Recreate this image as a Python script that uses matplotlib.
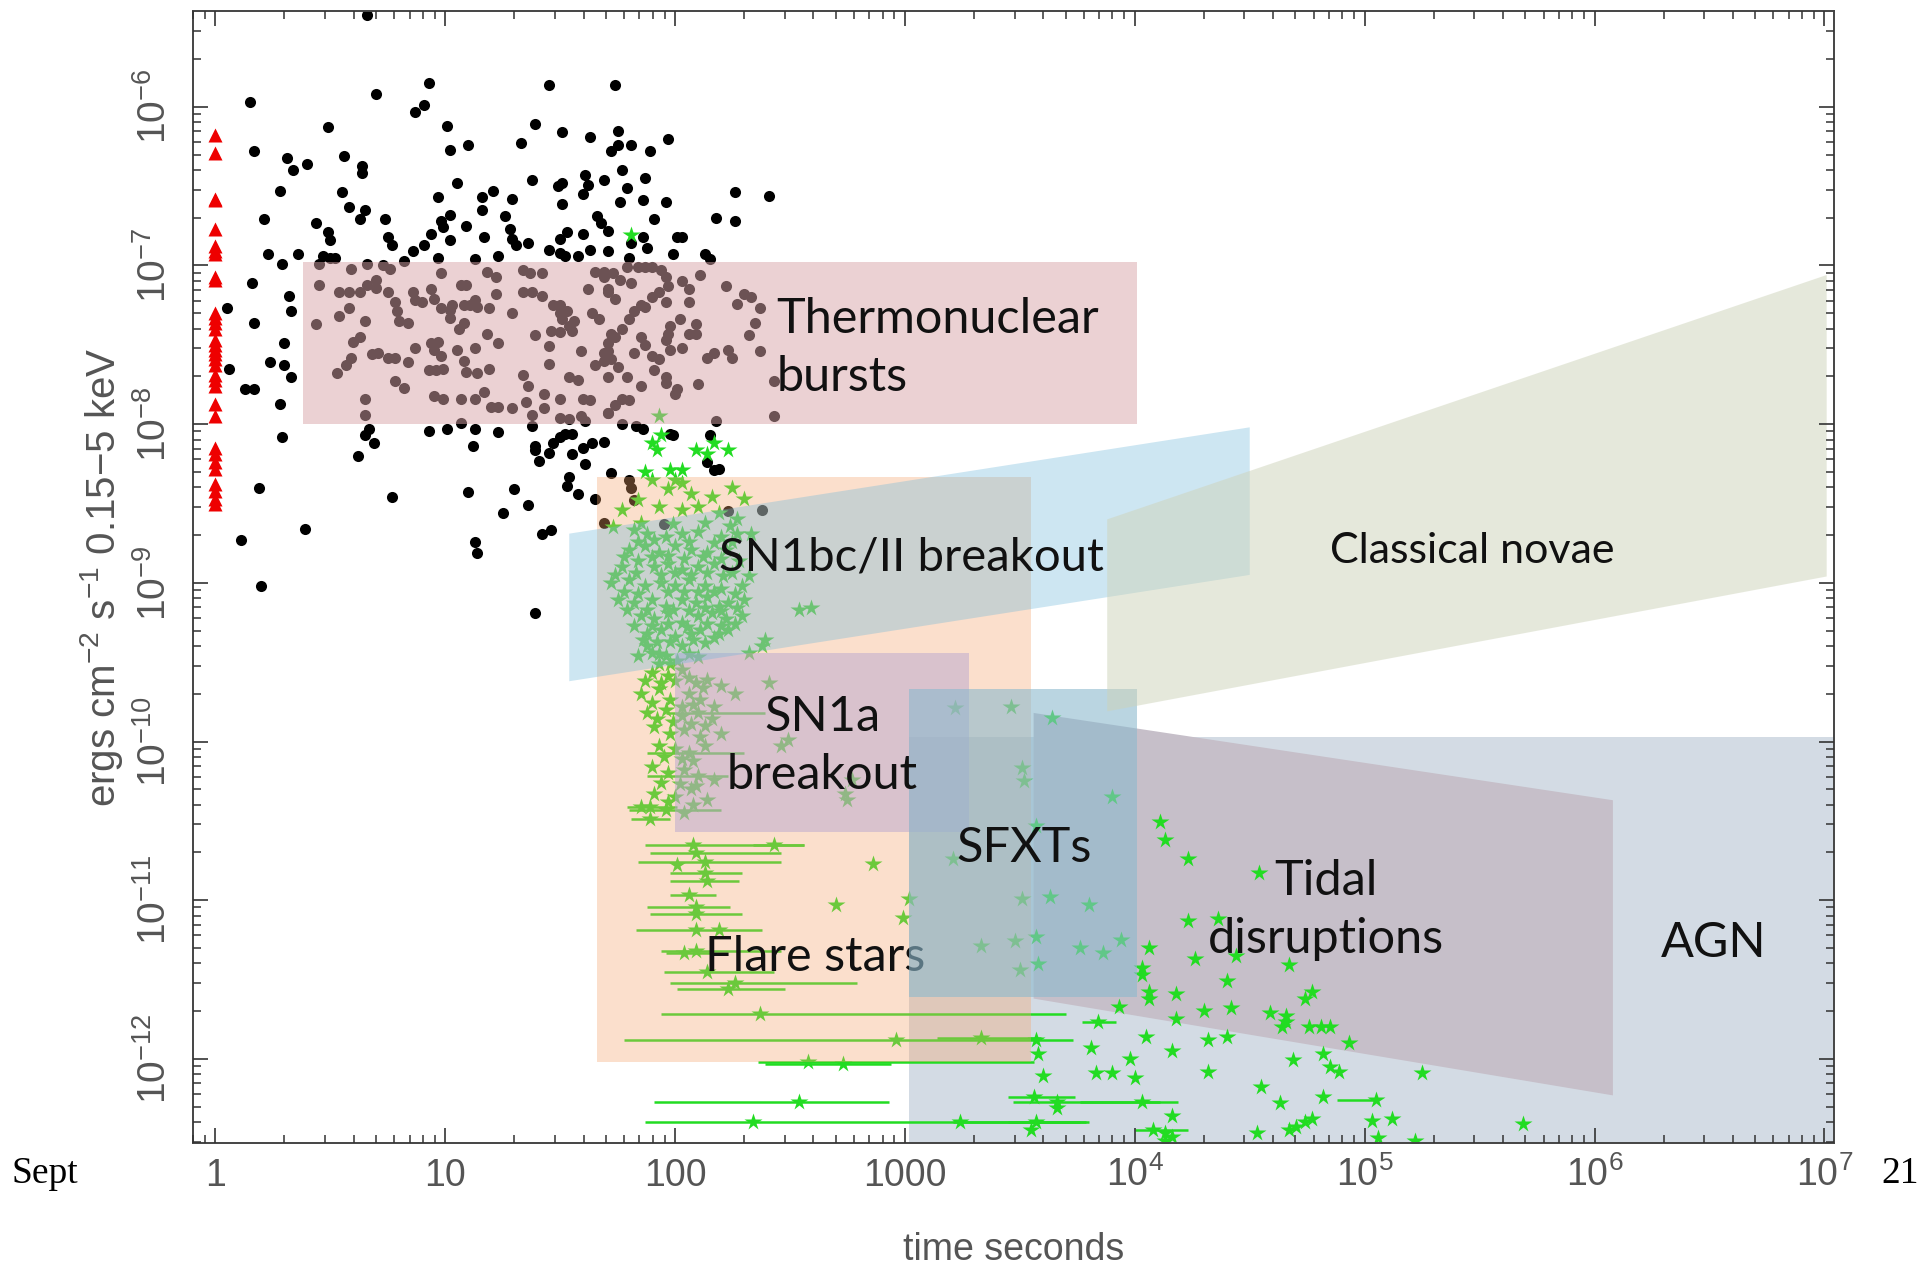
import numpy as np
import matplotlib
matplotlib.use("Agg")
import matplotlib.pyplot as plt
from matplotlib.patches import Polygon

plt.rcParams['font.family'] = ['Liberation Sans', 'DejaVu Sans']
plt.rcParams['mathtext.fontset'] = 'custom'
plt.rcParams['mathtext.rm'] = 'Liberation Sans'
plt.rcParams['mathtext.it'] = 'Liberation Sans:italic'
plt.rcParams['mathtext.bf'] = 'Liberation Sans:bold'

# all positions below are log10(time [s]), log10(flux)
# GRB-like sources at t = 1 s (red triangles)
tri_logf = [-6.18, -6.29, -6.58, -6.59, -6.77, -6.88, -6.91, -6.93, -7.07, -7.09,
            -7.30, -7.33, -7.36, -7.40, -7.47, -7.50, -7.53, -7.56, -7.59, -7.63,
            -7.69, -7.72, -7.76, -7.87, -7.95, -8.15, -8.19, -8.24, -8.28, -8.38,
            -8.42, -8.47, -8.50]

# X-ray bursts (black dots)
burst_pts = [
    (0.66, -5.42), (0.15, -5.97), (0.70, -5.92), (0.93, -5.85), (0.87, -6.03), (0.91, -5.99),
    (1.45, -5.86), (0.49, -6.13), (1.01, -6.12), (1.02, -6.27), (1.10, -6.24), (1.33, -6.23),
    (1.39, -6.11), (1.51, -6.16), (1.63, -6.19), (0.17, -6.28), (0.31, -6.32), (0.34, -6.40),
    (0.40, -6.36), (0.56, -6.31), (0.64, -6.37), (0.64, -6.42), (0.28, -6.53), (0.55, -6.54),
    (1.05, -6.48), (0.97, -6.57), (1.16, -6.57), (1.21, -6.53), (1.29, -6.58), (1.38, -6.46),
    (1.49, -6.50), (1.51, -6.48), (1.51, -6.61), (1.61, -6.43), (1.62, -6.49), (1.60, -6.55),
    (1.69, -6.46), (0.21, -6.71), (0.44, -6.73), (0.58, -6.63), (0.63, -6.71), (0.65, -6.65),
    (0.74, -6.71), (0.98, -6.72), (0.99, -6.76), (1.02, -6.68), (1.09, -6.75), (1.16, -6.65),
    (1.26, -6.69), (1.28, -6.77), (1.66, -6.69), (1.68, -6.73), (1.71, -6.78), (0.49, -6.79),
    (0.50, -6.84), (0.75, -6.82), (0.77, -6.87), (0.86, -6.91), (0.91, -6.87), (0.94, -6.80),
    (1.02, -6.84), (1.17, -6.82), (1.29, -6.83), (1.31, -6.87), (1.36, -6.86), (1.45, -6.90),
    (1.50, -6.83), (1.53, -6.79), (1.60, -6.80), (1.63, -6.90), (1.71, -6.91), (0.23, -6.93),
    (0.29, -6.99), (0.36, -6.93), (0.47, -6.94), (0.52, -6.95), (0.50, -6.95), (0.82, -6.97),
    (0.97, -6.95), (1.13, -6.96), (1.23, -6.94), (1.50, -6.92), (1.52, -6.94), (1.58, -6.94),
    (0.16, -7.11), (0.32, -7.19), (0.33, -7.29), (0.05, -7.27), (0.17, -7.36), (0.30, -7.49),
    (0.24, -7.61), (0.30, -7.63), (0.33, -7.70), (0.06, -7.65), (0.13, -7.78), (0.17, -7.78),
    (0.28, -7.87),
    (1.74, -5.86), (1.75, -6.15), (1.72, -6.28), (1.75, -6.24), (1.81, -6.24), (1.89, -6.28),
    (1.97, -6.20), (1.77, -6.40), (1.87, -6.45), (1.79, -6.51), (1.76, -6.60), (1.86, -6.59),
    (1.96, -6.60), (2.26, -6.54), (2.41, -6.56), (1.91, -6.71), (2.18, -6.70), (2.26, -6.72),
    (1.86, -6.82), (1.81, -6.86), (1.88, -6.89), (2.01, -6.82), (2.03, -6.82), (1.99, -6.93),
    (1.80, -6.95), (2.13, -6.93), (2.15, -6.96),
    (0.29, -8.08), (0.67, -8.03), (0.65, -8.07), (0.69, -8.12), (0.62, -8.20), (0.93, -8.04),
    (1.01, -8.03), (1.13, -8.03), (1.12, -8.14), (1.23, -8.05), (1.38, -8.01), (1.39, -8.14),
    (1.39, -8.16), (1.41, -8.23), (1.45, -8.18), (1.47, -8.12), (1.50, -8.08), (1.52, -8.06),
    (1.55, -8.06), (1.55, -8.19), (1.60, -8.15), (1.64, -8.12), (1.69, -8.11), (1.61, -8.25),
    (0.19, -8.40), (0.11, -8.73), (0.20, -9.02), (0.39, -8.66), (0.77, -8.46), (1.10, -8.43),
    (1.13, -8.74), (1.14, -8.81), (1.30, -8.41), (1.25, -8.56), (1.36, -8.51), (1.39, -9.19),
    (1.42, -8.69), (1.46, -8.67), (1.53, -8.39), (1.54, -8.33), (1.58, -8.44), (1.65, -8.47),
    (1.72, -8.31), (1.77, -8.00), (1.83, -8.01), (1.86, -8.03), (1.98, -8.06), (1.99, -8.07),
    (2.15, -8.07), (2.14, -8.24), (2.17, -8.29), (2.19, -8.28), (1.80, -8.35), (1.81, -8.40),
    (1.82, -8.48), (1.69, -8.62), (1.95, -8.63), (2.23, -8.55), (2.38, -8.54),
    # inside the burst box
    (0.45, -6.99), (0.45, -7.12), (0.44, -7.37), (0.54, -7.17), (0.58, -7.17), (0.63, -7.17),
    (0.59, -7.02), (0.66, -6.99), (0.66, -7.12), (0.70, -7.09), (0.70, -7.14), (0.73, -7.00),
    (0.76, -7.02), (0.75, -7.17), (0.78, -7.23), (0.79, -7.29), (0.80, -7.35), (0.84, -7.36),
    (0.86, -7.17), (0.87, -7.22), (0.90, -7.23), (0.94, -7.15), (0.95, -7.21), (0.98, -7.05),
    (0.98, -7.27), (1.02, -7.28), (1.02, -7.33), (1.03, -7.25), (1.07, -7.12), (1.09, -7.12),
    (1.08, -7.25), (1.11, -7.25), (1.13, -7.22), (1.14, -7.26), (1.19, -7.27), (1.18, -7.04),
    (1.22, -7.07), (1.22, -7.18), (1.29, -7.30), (1.34, -7.17), (1.34, -7.03), (1.37, -7.05),
    (1.42, -7.05), (1.38, -7.17), (1.42, -7.19), (1.47, -7.25), (1.50, -7.25), (1.50, -7.30),
    (1.53, -7.29), (1.51, -7.34), (1.54, -7.38), (1.56, -7.35), (1.62, -7.15), (1.65, -7.04),
    (1.69, -7.04), (1.64, -7.30), (1.67, -7.34), (1.71, -7.17), (0.54, -7.32), (0.58, -7.27),
    (0.65, -7.35), (0.60, -7.48), (0.63, -7.45), (0.59, -7.58), (0.57, -7.63), (0.53, -7.68),
    (0.68, -7.56), (0.71, -7.55), (0.75, -7.58), (0.78, -7.58), (0.84, -7.61), (0.78, -7.73),
    (0.82, -7.77), (0.87, -7.52), (0.94, -7.49), (0.95, -7.53), (0.97, -7.48), (0.98, -7.57),
    (0.93, -7.66), (0.96, -7.66), (0.99, -7.65), (1.05, -7.53), (1.06, -7.40), (1.08, -7.36),
    (1.13, -7.52), (1.08, -7.60), (1.09, -7.67), (1.14, -7.68), (1.19, -7.65), (1.18, -7.43),
    (1.23, -7.49), (1.07, -7.84), (1.13, -7.84), (1.17, -7.80), (0.95, -7.82), (0.99, -7.84),
    (1.20, -7.89), (1.23, -7.89), (1.29, -7.90), (1.34, -7.69), (1.36, -7.76), (1.35, -7.86),
    (1.38, -7.94), (1.39, -7.44), (1.45, -7.51), (1.45, -7.62), (1.46, -7.41), (1.50, -7.42),
    (1.55, -7.41), (1.43, -7.81), (1.43, -7.90), (1.50, -7.84), (1.54, -7.70), (1.58, -7.72),
    (1.59, -7.54), (1.60, -7.84), (1.63, -7.85), (1.65, -7.63), (1.69, -7.60), (1.71, -7.93),
    (1.71, -7.54), (1.72, -7.43), (0.65, -7.84), (0.65, -7.94), (1.07, -7.99), (1.50, -7.96),
    (1.54, -7.97), (1.59, -7.95), (1.61, -7.98),
    (1.69, -7.07), (1.71, -7.15), (1.74, -7.21), (1.73, -7.05), (1.76, -7.09), (1.79, -7.01),
    (1.81, -7.11), (1.84, -7.01), (1.87, -7.01), (1.90, -7.01), (1.94, -7.03), (1.96, -7.07),
    (1.97, -7.13), (1.93, -7.17), (1.90, -7.20), (1.85, -7.25), (1.82, -7.29), (1.80, -7.34),
    (1.77, -7.40), (1.74, -7.45), (1.71, -7.49), (1.69, -7.55), (1.72, -7.59), (1.75, -7.64),
    (1.71, -7.70), (1.87, -7.26), (1.96, -7.23), (2.03, -7.10), (2.06, -7.15), (2.06, -7.23),
    (2.02, -7.34), (1.98, -7.38), (1.97, -7.43), (1.96, -7.47), (1.98, -7.53), (1.93, -7.59),
    (1.90, -7.57), (1.91, -7.66), (1.96, -7.70), (1.96, -7.74), (2.03, -7.52), (2.06, -7.43),
    (2.09, -7.37), (2.09, -7.43), (2.01, -7.78), (2.00, -7.81), (2.10, -7.75), (1.85, -7.45),
    (1.87, -7.50), (1.85, -7.76), (1.77, -7.84), (1.80, -7.85), (1.74, -7.88), (1.71, -7.93),
    (1.82, -7.55), (1.79, -7.70), (2.11, -7.06), (2.22, -7.13), (2.27, -7.24), (2.30, -7.18),
    (2.33, -7.20), (2.37, -7.27), (2.35, -7.36), (2.32, -7.44), (2.37, -7.54), (2.23, -7.53),
    (2.25, -7.58), (2.14, -7.58), (2.17, -7.55), (2.18, -7.98), (2.43, -7.95), (2.43, -7.73),
]

# stars, flares and transients (green stars)
star_pts = [
    (1.81, -6.81), (1.93, -7.95), (1.90, -8.12), (1.92, -8.16), (1.94, -8.07), (2.09, -8.16),
    (2.17, -8.12), (2.23, -8.16), (2.14, -8.19), (1.98, -8.29), (2.03, -8.29), (1.87, -8.30),
    (1.90, -8.35), (2.00, -8.35), (2.03, -8.37), (1.97, -8.41), (2.07, -8.44), (2.16, -8.46),
    (2.25, -8.40), (2.30, -8.47), (1.77, -8.54), (1.84, -8.48), (1.93, -8.52), (2.03, -8.54),
    (2.10, -8.52), (2.19, -8.56), (2.27, -8.60), (1.73, -8.65), (2.33, -8.69),
    (1.82, -8.67), (1.88, -8.69), (1.96, -8.71), (2.03, -8.69), (2.10, -8.68), (2.20, -8.71),
    (2.27, -8.69), (1.80, -8.79), (1.87, -8.77), (1.93, -8.81), (2.00, -8.77), (2.07, -8.79),
    (2.14, -8.81), (2.22, -8.79), (1.77, -8.90), (1.84, -8.86), (1.91, -8.90), (1.97, -8.88),
    (2.03, -8.92), (2.10, -8.90), (2.17, -8.88), (2.25, -8.94), (2.32, -8.96), (1.72, -9.00),
    (1.80, -8.98), (1.87, -9.02), (1.94, -9.00), (2.00, -9.02), (2.06, -8.98), (2.13, -9.02),
    (2.20, -9.04), (2.29, -9.02), (1.75, -9.11), (1.82, -9.13), (1.90, -9.11), (1.96, -9.15),
    (2.03, -9.11), (2.09, -9.13), (2.14, -9.09), (2.19, -9.15), (2.23, -9.13), (2.30, -9.11),
    (1.85, -9.21), (1.91, -9.23), (1.97, -9.19), (2.03, -9.25), (2.10, -9.21), (2.16, -9.19),
    (2.22, -9.23), (2.29, -9.21), (2.54, -9.17), (2.59, -9.16), (1.88, -9.32), (1.94, -9.30),
    (2.00, -9.34), (2.07, -9.32), (2.11, -9.30), (2.19, -9.32), (2.23, -9.30), (2.39, -9.36),
    (2.13, -9.38), (2.03, -9.40), (1.84, -9.46), (1.90, -9.44), (1.96, -9.46), (2.01, -9.49),
    (1.88, -9.40), (2.32, -9.44), (2.38, -9.40), (1.93, -9.51), (1.98, -9.51),
    (1.85, -8.62), (1.99, -8.63), (2.13, -8.62), (2.24, -8.64), (1.84, -8.74), (1.91, -8.73),
    (2.06, -8.74), (2.17, -8.75), (2.25, -8.74), (1.78, -8.84), (1.90, -8.84), (1.97, -8.83),
    (2.04, -8.85), (2.12, -8.84), (2.20, -8.85), (2.28, -8.86), (1.74, -8.95), (1.83, -8.94),
    (1.94, -8.95), (2.00, -8.94), (2.07, -8.95), (2.14, -8.94), (2.21, -8.96), (1.78, -9.06),
    (1.84, -9.07), (1.97, -9.06), (2.04, -9.06), (2.10, -9.06), (2.17, -9.06), (2.26, -9.07),
    (1.79, -9.17), (1.88, -9.17), (1.99, -9.17), (2.06, -9.18), (2.13, -9.16), (2.20, -9.18),
    (2.27, -9.16), (1.82, -9.27), (1.90, -9.27), (1.97, -9.26), (2.05, -9.28), (2.14, -9.26),
    (2.20, -9.27), (2.26, -9.26), (1.86, -9.36), (1.92, -9.37), (1.98, -9.37), (2.08, -9.36),
    (2.17, -9.35), (1.93, -9.45), (2.06, -9.45), (2.10, -9.47),
    (1.90, -9.57), (1.97, -9.59), (2.03, -9.55), (2.09, -9.63), (2.14, -9.61), (2.20, -9.65),
    (1.85, -9.70), (1.93, -9.67), (1.98, -9.74), (2.06, -9.70), (2.11, -9.74), (2.17, -9.78),
    (2.26, -9.70), (2.41, -9.63), (1.88, -9.82), (1.96, -9.80), (2.03, -9.84), (2.16, -9.86),
    (1.91, -9.91), (1.98, -9.95), (2.04, -9.93), (2.11, -9.97), (2.20, -9.95), (2.46, -10.03),
    (2.49, -9.99), (1.93, -10.03), (2.00, -10.05), (2.13, -10.03), (1.90, -10.16),
    (1.97, -10.20), (2.04, -10.18), (2.17, -10.24), (1.91, -10.33), (2.00, -10.35),
    (2.07, -10.30), (2.14, -10.37), (2.75, -10.37), (2.74, -10.33), (1.85, -10.41),
    (2.04, -10.45), (2.77, -10.24), (2.86, -10.77),
    (1.87, -9.62), (1.94, -9.63), (2.00, -9.62), (2.06, -9.60), (2.12, -9.66), (1.90, -9.76),
    (2.03, -9.78), (2.08, -9.77), (1.92, -9.86), (1.99, -9.88), (2.07, -9.89), (2.13, -9.90),
    (1.95, -10.10), (2.03, -10.11), (2.08, -10.12), (1.94, -10.26), (2.02, -10.27),
    (2.09, -10.28), (1.97, -10.38), (2.08, -10.40),
    (2.01, -10.78), (2.09, -11.19), (2.70, -11.03), (2.99, -11.11), (3.02, -10.99),
    (3.21, -10.74), (3.33, -11.29), (3.22, -9.79),
    (3.46, -9.78), (3.64, -9.85), (3.51, -10.17), (3.52, -10.25), (3.90, -10.35), (3.57, -10.53),
    (3.63, -10.98), (3.80, -11.03), (3.51, -10.99), (4.11, -10.51), (4.13, -10.62), (4.23, -10.74),
    (4.54, -10.83), (4.23, -11.13), (4.36, -11.12), (3.76, -11.30), (3.86, -11.33), (3.94, -11.25),
    (3.57, -11.23), (3.48, -11.26), (3.58, -11.40), (3.50, -11.44), (4.06, -11.30), (4.03, -11.43),
    (4.03, -11.47), (4.26, -11.37), (4.44, -11.35), (4.67, -11.41), (4.40, -11.51), (4.06, -11.58),
    (4.06, -11.62), (4.18, -11.59), (3.93, -11.67), (4.30, -11.70), (4.42, -11.68), (4.18, -11.75),
    (4.59, -11.71), (4.66, -11.73), (4.66, -11.77), (4.64, -11.80), (4.76, -11.80), (4.81, -11.80),
    (4.85, -11.80), (4.77, -11.58), (4.74, -11.62), (4.93, -11.90), (4.05, -11.86), (4.32, -11.88),
    (4.40, -11.86), (3.57, -11.88), (3.81, -11.93), (3.98, -12.00), (4.16, -11.95), (3.58, -11.97),
    (4.69, -12.01), (4.82, -11.97), (4.85, -12.05), (4.89, -12.08), (3.60, -12.11), (3.83, -12.09),
    (3.90, -12.09), (4.00, -12.12), (4.32, -12.08), (5.25, -12.09), (4.55, -12.18), (4.63, -12.28),
    (4.82, -12.24), (3.66, -12.31), (4.16, -12.36), (5.03, -12.39), (5.12, -12.38), (3.55, -12.45),
    (4.13, -12.47), (4.16, -12.49), (4.53, -12.47), (4.67, -12.45), (4.70, -12.43), (4.74, -12.40),
    (4.77, -12.38), (5.06, -12.50), (5.22, -12.52), (4.13, -12.52), (5.69, -12.41),
]

# stars with horizontal duration bars: log t, log f, bar start, bar end
bar_logt = [2.10, 2.06, 2.10, 1.96, 1.89, 1.89, 2.08, 2.43, 2.09, 2.13, 2.13, 2.14, 2.06, 2.09,
            2.09, 2.19, 2.04, 2.09, 2.14, 2.26, 2.23, 2.37, 2.96, 3.33, 2.58, 2.73, 2.54, 2.34,
            3.24, 3.56, 3.66, 4.03, 3.57, 4.08, 3.84, 5.05]
bar_logf = [-9.82, -10.07, -10.22, -10.43, -10.41, -10.49, -10.65, -10.65, -10.70, -10.76,
            -10.83, -10.88, -10.97, -11.04, -11.09, -11.19, -11.33, -11.32, -11.45, -11.52,
            -11.56, -11.72, -11.88, -11.87, -12.02, -12.03, -12.27, -12.40, -12.40, -12.24,
            -12.27, -12.27, -12.40, -12.45, -11.77, -12.26]
bar_lo = [1.96, 1.88, 1.88, 1.80, 1.79, 1.81, 1.87, 2.34, 1.89, 1.84, 1.98, 1.98, 1.98, 1.88,
          1.89, 1.83, 1.96, 1.94, 1.95, 1.98, 2.01, 1.94, 1.78, 3.14, 2.36, 2.39, 1.91, 1.87,
          3.21, 3.45, 3.47, 3.76, 3.45, 4.00, 3.77, 4.88]
bar_hi = [2.39, 2.30, 2.23, 2.20, 2.01, 1.98, 2.56, 2.56, 2.46, 2.46, 2.29, 2.28, 2.18, 2.24,
          2.29, 2.38, 2.16, 2.46, 2.43, 2.79, 2.48, 3.70, 3.73, 3.59, 3.56, 2.94, 2.93, 3.80,
          3.76, 3.74, 4.19, 4.11, 3.79, 4.23, 3.92, 5.05]

# source class regions (log t, log f corners)
region_agn = [(3.02, -9.97), (8.0, -9.97), (8.0, -13.0), (3.02, -13.0)]
region_tde = [(3.56, -9.82), (6.08, -10.37), (6.08, -12.23), (3.56, -11.62)]
region_flare = [(1.66, -8.33), (3.55, -8.33), (3.55, -12.02), (1.66, -12.02)]
region_sn1a = [(2.00, -9.44), (3.28, -9.44), (3.28, -10.57), (2.00, -10.57)]
region_sn1bc = [(1.54, -8.69), (4.50, -8.02), (4.50, -8.95), (1.54, -9.62)]
region_sfxt = [(3.02, -9.67), (4.01, -9.67), (4.01, -11.61), (3.02, -11.61)]
region_burst = [(0.38, -6.98), (4.01, -6.98), (4.01, -8.00), (0.38, -8.00)]
region_novae = [(3.88, -8.60), (7.01, -7.06), (7.01, -8.96), (3.88, -9.81)]

xtick_vals = [1, 10, 100, 1000, 1e4, 1e5, 1e6, 1e7]
xtick_text = ['1', '10', '100', '1000', r'$10^4$', r'$10^5$', r'$10^6$', r'$10^7$']
ytick_vals = [1e-12, 1e-11, 1e-10, 1e-9, 1e-8, 1e-7, 1e-6]
ytick_text = [r'$10^{-12}$', r'$10^{-11}$', r'$10^{-10}$', r'$10^{-9}$',
              r'$10^{-8}$', r'$10^{-7}$', r'$10^{-6}$']


def lin(pts):
    return [(10 ** a, 10 ** b) for a, b in pts]


fig = plt.figure(figsize=(19.28, 12.71), dpi=100)
ax = fig.add_axes([0.1001, 0.1007, 0.8511, 0.8903])
ax.set_xscale('log')
ax.set_yscale('log')
ax.set_xlim(0.80, 1.1e7)
ax.set_ylim(2.95e-13, 3.99e-6)

# background regions (below the points)
ax.add_patch(Polygon(lin(region_agn), closed=True, fc='#d3dbe4', ec='none', zorder=0.5))
ax.add_patch(Polygon(lin(region_tde), closed=True, fc='#c6bfc9', ec='none', zorder=0.6))

bx, by = np.array(burst_pts).T
ax.plot(10 ** bx, 10 ** by, 'o', color='black', ms=8, mec='none', zorder=2)
ax.plot(np.ones(len(tri_logf)), 10 ** np.array(tri_logf), '^', color='#ee0000',
        ms=10.5, mec='none', zorder=2)

star_green = '#22dc22'
ax.hlines(10 ** np.array(bar_logf), 10 ** np.array(bar_lo), 10 ** np.array(bar_hi),
          color=star_green, lw=1.8, zorder=2.05)
sx, sy = np.array(star_pts).T
ax.plot(10 ** sx, 10 ** sy, '*', color=star_green, ms=13, mec='none', zorder=2.1)
ax.plot(10 ** np.array(bar_logt), 10 ** np.array(bar_logf), '*', color=star_green,
        ms=13, mec='none', zorder=2.1)

# translucent regions laid over the points
ax.add_patch(Polygon(lin(region_flare), closed=True, fc=(246/255, 166/255, 109/255),
                     alpha=0.35, ec='none', zorder=3.0))
ax.add_patch(Polygon(lin(region_sn1a), closed=True, fc=(184/255, 166/255, 206/255),
                     alpha=0.5, ec='none', zorder=3.1))
ax.add_patch(Polygon(lin(region_sn1bc), closed=True, fc=(112/255, 184/255, 218/255),
                     alpha=0.35, ec='none', zorder=3.2))
ax.add_patch(Polygon(lin(region_sfxt), closed=True, fc=(140/255, 185/255, 205/255),
                     alpha=0.6, ec='none', zorder=3.3))
ax.add_patch(Polygon(lin(region_burst), closed=True, fc=(216/255, 164/255, 168/255),
                     alpha=0.5, ec='none', zorder=3.4))
ax.add_patch(Polygon(lin(region_novae), closed=True, fc=(205/255, 211/255, 185/255),
                     alpha=0.5, ec='none', zorder=3.5))

lab = dict(family=['Lato', 'DejaVu Sans'], fontsize=35, color='#111111')
ax.text(10 ** 2.44, 10 ** -7.52, 'Thermonuclear\nbursts', ha='left', va='center',
        linespacing=1.38, zorder=4, **lab)
ax.text(10 ** 2.19, 10 ** -8.84, 'SN1bc/II breakout', ha='left', va='center', zorder=4,
        **dict(lab, fontsize=34))
ax.text(10 ** 4.85, 10 ** -8.80, 'Classical novae', ha='left', va='center', zorder=4,
        **dict(lab, fontsize=31))
ax.text(10 ** 2.64, 10 ** -10.03, 'SN1a\nbreakout', ha='center', va='center',
        linespacing=1.38, zorder=4, **lab)
ax.text(10 ** 3.52, 10 ** -10.67, 'SFXTs', ha='center', va='center', zorder=4, **lab)
ax.text(10 ** 4.83, 10 ** -11.06, 'Tidal\ndisruptions', ha='center', va='center',
        linespacing=1.38, zorder=4, **lab)
ax.text(10 ** 6.52, 10 ** -11.27, 'AGN', ha='center', va='center', zorder=4, **lab)
ax.text(10 ** 2.61, 10 ** -11.36, 'Flare stars', ha='center', va='center', zorder=3.25, **lab)

# axes styling
ax.set_xticks(xtick_vals)
ax.set_xticklabels(xtick_text)
ax.set_yticks(ytick_vals)
ax.set_yticklabels(ytick_text, rotation=90, va='center')
ax.tick_params(which='both', direction='in', top=True, right=True, colors='#333333',
               labelcolor='#555555', labelsize=27)
ax.tick_params(axis='y', which='major', labelsize=28)
ax.tick_params(which='major', length=11, width=1.2)
ax.tick_params(which='minor', length=5.5, width=1.1)
ax.tick_params(axis='x', which='major', pad=31)
ax.tick_params(axis='y', which='major', pad=14)
for t in ax.get_xticklabels():
    t.set_va('baseline')
for sp in ax.spines.values():
    sp.set_color('#444444')
    sp.set_linewidth(1.4)
    sp.set_zorder(5)
ax.xaxis.set_zorder(5)
ax.yaxis.set_zorder(5)

ax.set_xlabel('time seconds', fontsize=27, color='#555555')
ax.xaxis.set_label_coords(0.5, -0.079)
ax.set_ylabel(r'ergs cm$^{-2}$ s$^{-1}$ 0.15$-$5 keV', fontsize=29, color='#555555')
ax.yaxis.set_label_coords(-0.056, 0.5)
ax.yaxis.label.set_va('center')

fig.text(12 / 1928, 1 - 1174 / 1271, 'Sept', family=['Liberation Serif', 'DejaVu Serif'],
         fontsize=27, va='center', ha='left', color='black')
fig.text(1881 / 1928, 1 - 1174 / 1271, '21', family=['Liberation Serif', 'DejaVu Serif'],
         fontsize=27, va='center', ha='left', color='black')

fig.savefig('out.png', dpi=100, facecolor='white')
